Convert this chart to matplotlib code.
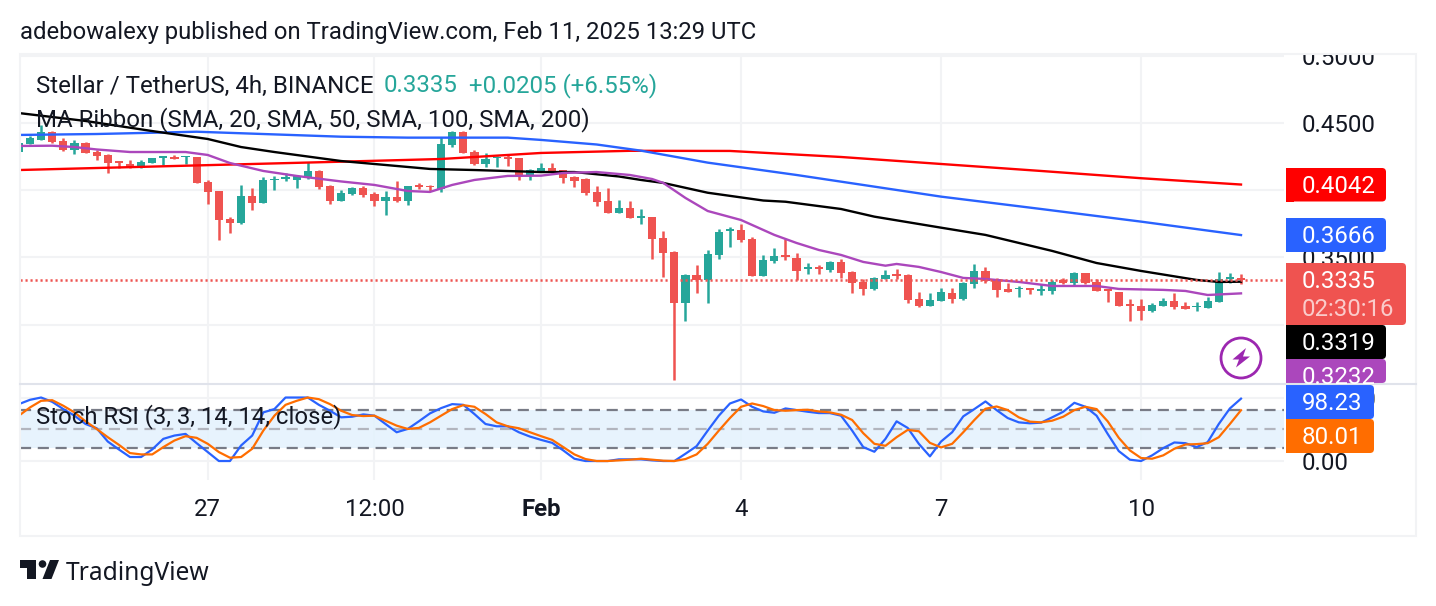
import matplotlib
matplotlib.use('Agg')
import matplotlib.pyplot as plt
from matplotlib.patches import Rectangle, FancyBboxPatch, Circle, Polygon

plt.rcParams['font.family'] = ['Roboto', 'DejaVu Sans']

# candles, 4h bars
opens = [
    .4287, .4347, .4374, .4436, .4367, .4300, .4354, .4285, .4262, .4215,
    .4193, .4168, .4205, .4243, .4248, .4245, .4250, .4059, .3995, .3784,
    .3757, .3957, .3905, .4074, .4081, .4076, .4096, .4143, .4032, .3923,
    .3974, .4016, .3971, .3919, .3949, .3919, .4036, .4031, .4006, .4336,
    .4433, .4281, .4195, .4239, .4249, .4239, .4113, .4138, .4165, .4148,
    .4100, .4081, .3986, .3919, .3830, .3867, .3795, .3801, .3645, .3541,
    .3161, .3369, .3332, .3518, .3699, .3704, .3637, .3362, .3474, .3518,
    .3496, .3414, .3429, .3407, .3466, .3392, .3317, .3265, .3340, .3377,
    .3369, .3191, .3139, .3176, .3235, .3191, .3303, .3399, .3340, .3263,
    .3263, .3273, .3253, .3251, .3332, .3310, .3385, .3318, .3263, .3243,
    .3154, .3139, .3102, .3139, .3176, .3136, .3127, .3124, .3169, .3342, .3350]
highs = [
    .4349, .4404, .4486, .4441, .4386, .4374, .4359, .4300, .4270, .4220,
    .4223, .4223, .4238, .4252, .4262, .4255, .4250, .4076, .3995, .3801,
    .4039, .4017, .4096, .4106, .4126, .4114, .4213, .4151, .4039, .4002,
    .4021, .4033, .3984, .3994, .4068, .4031, .4056, .4038, .4393, .4440,
    .4440, .4299, .4277, .4254, .4269, .4239, .4155, .4202, .4202, .4150,
    .4105, .4090, .4031, .4016, .3927, .3919, .3860, .3801, .3697, .3548,
    .3377, .3444, .3555, .3712, .3727, .3749, .3652, .3518, .3570, .3637,
    .3533, .3459, .3444, .3474, .3488, .3399, .3340, .3355, .3407, .3414,
    .3377, .3243, .3235, .3273, .3273, .3318, .3451, .3429, .3347, .3310,
    .3288, .3273, .3303, .3332, .3347, .3392, .3385, .3340, .3263, .3243,
    .3191, .3191, .3161, .3198, .3236, .3169, .3169, .3206, .3392, .3385, .3377]
lows = [
    .4287, .4347, .4374, .4354, .4295, .4272, .4275, .4228, .4131, .4168,
    .4168, .4168, .4205, .4188, .4235, .4195, .4057, .3898, .3630, .3682,
    .3747, .3853, .3905, .4002, .4071, .4019, .4084, .4009, .3898, .3923,
    .3964, .3949, .3882, .3815, .3914, .3890, .4009, .3994, .3989, .4324,
    .4279, .4187, .4172, .4172, .4180, .4076, .4076, .4138, .4128, .4053,
    .4024, .3964, .3882, .3830, .3830, .3793, .3748, .3488, .3355, .2588,
    .3027, .3235, .3161, .3488, .3578, .3615, .3362, .3362, .3459, .3481,
    .3332, .3377, .3377, .3392, .3347, .3235, .3221, .3258, .3340, .3340,
    .3161, .3131, .3139, .3176, .3161, .3184, .3273, .3310, .3206, .3243,
    .3206, .3228, .3221, .3228, .3303, .3288, .3303, .3251, .3169, .3139,
    .3027, .3035, .3094, .3139, .3117, .3117, .3102, .3124, .3169, .3310, .3303]
closes = [
    .4349, .4386, .4431, .4362, .4300, .4349, .4280, .4255, .4205, .4205,
    .4168, .4208, .4238, .4252, .4235, .4255, .4057, .3990, .3781, .3759,
    .3957, .3905, .4074, .4086, .4096, .4106, .4143, .4024, .3923, .3977,
    .4016, .3966, .3919, .3949, .3917, .4031, .4026, .4021, .4343, .4433,
    .4279, .4195, .4232, .4249, .4234, .4113, .4148, .4165, .4138, .4090,
    .4071, .3979, .3912, .3830, .3867, .3793, .3808, .3637, .3533, .3161,
    .3369, .3330, .3526, .3689, .3709, .3630, .3362, .3481, .3511, .3506,
    .3399, .3429, .3414, .3466, .3384, .3310, .3265, .3347, .3369, .3362,
    .3183, .3139, .3183, .3243, .3191, .3310, .3399, .3325, .3258, .3243,
    .3273, .3258, .3263, .3318, .3310, .3385, .3310, .3251, .3251, .3139,
    .3141, .3102, .3146, .3176, .3131, .3117, .3136, .3176, .3340, .3352, .3335]

# moving averages, sampled at the bars where the line bends
red_bars = [0, 29, 38, 47, 55, 64, 74, 83, 92, 101, 110]
red_ma = [.4150, .4212, .4232, .4277, .4293, .4292, .4247, .4195, .4143, .4089, .4042]
blue_bars = [0, 7, 16, 29, 35, 44, 47, 52, 56, 62, 70, 83, 92, 101, 110]
blue_ma = [.4411, .4418, .4435, .4398, .4391, .4391, .4374, .4340, .4294, .4205, .4113, .3952, .3860, .3766, .3666]
black_bars = [0, 6, 12, 17, 20, 23, 29, 37, 41, 47, 50, 54, 56, 58, 62, 67, 69, 74, 77, 83, 87, 93, 97, 101, 106, 108, 110]
black_ma = [.4574, .4515, .4440, .4381, .4321, .4284, .4217, .4158, .4150, .4135, .4135, .4102, .4076, .4054,
            .3981, .3923, .3914, .3860, .3803, .3721, .3667, .3548, .3458, .3399, .3332, .3317, .3319]
purple_bars = [0, 3, 5, 7, 10, 15, 17, 19, 22, 25, 29, 32, 35, 37, 39, 41, 44, 47, 49, 52, 55, 57, 58, 60, 62, 65, 68,
               70, 72, 74, 76, 78, 79, 81, 83, 85, 87, 90, 93, 97, 99, 103, 105, 107, 110]
purple_ma = [.4329, .4331, .4321, .4303, .4284, .4284, .4262, .4202, .4143, .4106, .4065, .4039, .3994, .3987, .4039,
             .4076, .4106, .4108, .4128, .4135, .4113, .4083, .4054, .3942, .3845, .3778, .3667, .3607, .3555, .3518,
             .3466, .3438, .3451, .3429, .3391, .3347, .3339, .3317, .3287, .3287, .3265, .3258, .3250, .3220, .3232]

# stoch rsi
stoch_k = [
    89.6, 96.4, 100, 93.2, 81.8, 71.4, 58.3, 51.6, 30.7, 18.2,
    6.3, 6.3, 18.2, 34.9, 40.1, 42.7, 28.1, 14.1, 0, 0,
    24.5, 40.1, 76.6, 81.8, 100, 100, 100, 88.5, 79.2, 68.8,
    69.8, 73.4, 71.4, 58.3, 45.3, 50.5, 62.5, 75, 83.3, 89.6,
    88.5, 74, 58.3, 54.7, 54.7, 45.3, 38.5, 33.3, 28.6, 16.7,
    3.6, 0, 0, 0, 2.6, 2.6, 2.6, 1.0, 0, 0,
    11.5, 23.4, 47.9, 71.4, 90.6, 96.9, 85.4, 78.1, 76, 82.8,
    80.2, 77.6, 75.5, 75.5, 71.4, 47.9, 21.9, 14.6, 34.9, 62.5,
    52.1, 27.1, 7.3, 30.7, 45.3, 70.3, 81.8, 93.8, 80.2, 67.7,
    60.9, 59.4, 60.4, 68.8, 77.6, 91.7, 85.4, 71.4, 42.7, 15.6,
    2.1, 0, 8.9, 20.3, 29.2, 28.1, 21.9, 29.7, 58.3, 82.8, 98.23]
stoch_d = [
    71.4, 84.4, 94.8, 95.8, 87, 76.6, 62.5, 50.5, 37.5, 25.5,
    12.5, 10.4, 10.4, 21.9, 32.3, 39.1, 36.5, 27.1, 14.1, 5.2,
    6.3, 19.3, 47.9, 71.4, 88.5, 94.8, 100, 97.4, 89.6, 79.2,
    72.4, 70.8, 71.4, 63.5, 55.7, 50.5, 52.1, 60.9, 71.4, 81.8,
    88, 85.4, 74, 60.9, 54.7, 51.6, 45.3, 39.1, 33.3, 21.9,
    10.4, 3.1, 0, 0, 1, 2.1, 3.6, 2.1, 0.5, 0,
    3.1, 10.4, 27.1, 47.9, 67.7, 85.4, 90.6, 86.5, 80.2, 79.2,
    80.2, 80.7, 78.1, 76.6, 72.9, 64.6, 43.8, 27.1, 24, 37.5,
    49, 46.9, 28.6, 21.4, 27.1, 45.3, 64.6, 82.3, 85.9, 80.2,
    68.8, 62, 60.9, 63.5, 69.8, 80.2, 85.4, 81.8, 62.5, 36.5,
    16.7, 4.7, 3.6, 8.9, 19.3, 26, 26.6, 28.1, 37.5, 58.3, 80.01]

last_price = 0.3335
price_ticks = [0.50, 0.45, 0.40, 0.35, 0.30]
time_ticks = [17, 32, 47, 65, 83, 101]
time_labels = ['27', '12:00', 'Feb', '4', '7', '10']

TEAL = '#26A69A'
RED = '#EF5350'
GRID = '#F2F3F5'
DARK = '#131722'

fig = plt.figure(figsize=(14.36, 6.06), dpi=100)
W, H = 1436, 606


def pane(x0, y0, x1, y1):
    return fig.add_axes([x0 / W, 1 - y1 / H, (x1 - x0) / W, (y1 - y0) / H])


xlim = (0.1, 113.87)

# price pane
ax = pane(20, 55, 1284, 383)
ax.set_xlim(xlim)
ax.set_ylim(0.2565, 0.5006)
for s in ax.spines.values():
    s.set_visible(False)
ax.yaxis.tick_right()
ax.set_yticks(price_ticks)
ax.set_yticklabels(['%.4f' % p for p in price_ticks], fontsize=17.3, color=DARK)
ax.tick_params(axis='y', length=0, pad=13)
ax.set_xticks(time_ticks)
ax.tick_params(axis='x', length=0, labelbottom=False)
ax.grid(True, color=GRID, lw=1.5)
ax.set_axisbelow(True)

idx = list(range(len(closes)))
colors = [TEAL if c >= o else RED for o, c in zip(opens, closes)]
ax.vlines(idx, lows, highs, colors=colors, lw=1.8, zorder=2)
body_bottom = [min(o, c) for o, c in zip(opens, closes)]
body_height = [abs(o - c) for o, c in zip(opens, closes)]
ax.bar(idx, body_height, bottom=body_bottom, width=0.74, color=colors, zorder=3)

ax.plot(red_bars, red_ma, color='#FF0000', lw=1.7, zorder=4)
ax.plot(blue_bars, blue_ma, color='#2962FF', lw=1.7, zorder=4)
ax.plot(black_bars, black_ma, color='#000000', lw=1.7, zorder=4)
ax.plot(purple_bars, purple_ma, color='#AB47BC', lw=1.7, zorder=4)
ax.axhline(last_price, color=RED, lw=1.8, ls=(0, (0.85, 1.15)), zorder=4)

# stoch rsi pane
ax2 = pane(20, 384, 1284, 480)
ax2.set_xlim(xlim)
ax2.set_ylim(-29.9, 121.3)
for s in ax2.spines.values():
    s.set_visible(False)
ax2.yaxis.tick_right()
ax2.set_yticks([100, 0])
ax2.set_yticklabels(['100.00', '0.00'], fontsize=17.3, color=DARK)
ax2.tick_params(axis='y', length=0, pad=13)
ax2.set_xticks(time_ticks)
ax2.set_xticklabels(time_labels, fontsize=17.3, color=DARK)
ax2.tick_params(axis='x', length=0, pad=13)
ax2.get_xticklabels()[2].set_fontweight('bold')
ax2.grid(True, color=GRID, lw=1.5)
ax2.set_axisbelow(True)
ax2.axhspan(20, 80, color='#E3F2FD', alpha=0.85, lw=0, zorder=1)
ax2.axhline(80, color='#787B86', lw=1.6, ls=(0, (5, 3)), zorder=2)
ax2.axhline(50, color='#B2B5BE', lw=1.6, ls=(0, (5, 3)), zorder=2)
ax2.axhline(20, color='#787B86', lw=1.6, ls=(0, (5, 3)), zorder=2)
ax2.plot(idx, stoch_k, color='#2962FF', lw=1.6, zorder=3)
ax2.plot(idx, stoch_d, color='#FF6D00', lw=1.6, zorder=3)

# overlay in pixel coordinates for frame, price labels, header and logo
ov = fig.add_axes([0, 0, 1, 1], zorder=5)
ov.set_xlim(0, W)
ov.set_ylim(H, 0)
ov.axis('off')
ov.patch.set_visible(False)

ov.add_patch(Rectangle((0, 0), W, 53.5, color='white', lw=0))
ov.add_patch(Rectangle((20, 54), 1396, 482, fill=False, ec=GRID, lw=1.5))
ov.plot([20, 1416], [383.5, 383.5], color='#E0E3EB', lw=1.5)


def label(y0, y1, x1, color, text, sub=None):
    # square on the left, rounded on the right
    box = FancyBboxPatch((1290, y0), x1 - 1290, y1 - y0, boxstyle='round,pad=0,rounding_size=4',
                         fc=color, ec='none')
    ov.add_patch(box)
    ov.add_patch(Rectangle((1286, y0), 8, y1 - y0, fc=color, ec='none'))
    if sub is None:
        ov.text(1302, (y0 + y1) / 2 + 1.5, text, color='white', fontsize=17.3, va='center')
    else:
        ov.text(1302, y0 + 19, text, color='white', fontsize=17.3, va='center')
        ov.text(1302, y0 + 47, sub, color='#FFFFFF', alpha=0.7, fontsize=17.3, va='center')


label(168, 201.5, 1386, '#FF0000', '0.4042')
label(218, 252, 1386, '#2962FF', '0.3666')
label(263, 325, 1406, RED, '0.3335', sub='02:30:16')
label(325, 359, 1386, '#000000', '0.3319')
label(359, 383, 1386, '#AB47BC', '')
t = ov.text(1302, 377, '0.3232', color='white', fontsize=17.3, va='center')
t.set_clip_path(Rectangle((1286, 359), 100, 24, transform=ov.transData))
label(385, 419, 1374, '#2962FF', '98.23')
label(419, 453, 1374, '#FF6D00', '80.01')

# header and legend
ov.text(20, 33, 'adebowalexy published on TradingView.com, Feb 11, 2025 13:29 UTC',
        fontsize=17.2, color=DARK, va='center')
ov.text(36, 86, 'Stellar / TetherUS, 4h, BINANCE', fontsize=17.25, color=DARK, va='center')
ov.text(384, 86, '0.3335', fontsize=17.3, color=TEAL, va='center')
ov.text(469, 86, '+0.0205 (+6.55%)', fontsize=17.3, color=TEAL, va='center')
ov.text(36, 120, 'MA Ribbon (SMA, 20, SMA, 50, SMA, 100, SMA, 200)', fontsize=17.3, color=DARK, va='center')
ov.text(36, 417, 'Stoch RSI (3, 3, 14, 14, close)', fontsize=17.2, color=DARK, va='center')

# bolt badge
ov.add_patch(Circle((1241, 358), 20, fill=False, ec='#9C27B0', lw=2))
ov.add_patch(Polygon([(1246, 348), (1232.5, 359.5), (1239, 359.5), (1236, 367.5), (1250, 356.5), (1243, 356.5)],
                     fc='#9C27B0', ec='none'))

# tradingview logo
ov.add_patch(Polygon([(20, 560), (36, 560), (36, 579), (27, 579), (27, 568), (20, 568)], fc=DARK, ec='none'))
ov.add_patch(Circle((42.5, 564), 3.8, fc=DARK, ec='none'))
ov.add_patch(Polygon([(50, 560), (59, 560), (51.5, 579), (42.5, 579)], fc=DARK, ec='none'))
ov.text(66, 574, 'TradingView', fontsize=17.7, color=DARK, va='center', family=['Noto Sans', 'DejaVu Sans'])

fig.savefig('out.png', dpi=100, facecolor='white')
